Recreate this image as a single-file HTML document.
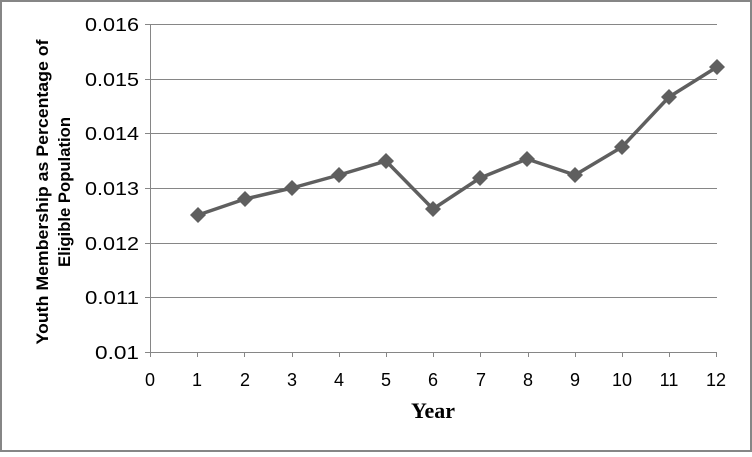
<!DOCTYPE html><html><head><style>body{margin:0;background:#fff}</style></head><body>
<svg width="752" height="452" xmlns="http://www.w3.org/2000/svg" font-family="Liberation Sans, sans-serif">
<rect x="1" y="1" width="750" height="450" fill="#fff" stroke="#868686" stroke-width="2"/>
<g stroke="#868686" stroke-width="1">
<line x1="145" y1="24.5" x2="717" y2="24.5"/><line x1="145" y1="79.5" x2="717" y2="79.5"/><line x1="145" y1="133.5" x2="717" y2="133.5"/><line x1="145" y1="188.5" x2="717" y2="188.5"/><line x1="145" y1="243.5" x2="717" y2="243.5"/><line x1="145" y1="297.5" x2="717" y2="297.5"/><line x1="145" y1="352.5" x2="717" y2="352.5"/>
<line x1="150.5" y1="24" x2="150.5" y2="357"/>
<line x1="197.5" y1="352" x2="197.5" y2="357"/><line x1="244.5" y1="352" x2="244.5" y2="357"/><line x1="292.5" y1="352" x2="292.5" y2="357"/><line x1="339.5" y1="352" x2="339.5" y2="357"/><line x1="386.5" y1="352" x2="386.5" y2="357"/><line x1="433.5" y1="352" x2="433.5" y2="357"/><line x1="480.5" y1="352" x2="480.5" y2="357"/><line x1="528.5" y1="352" x2="528.5" y2="357"/><line x1="575.5" y1="352" x2="575.5" y2="357"/><line x1="622.5" y1="352" x2="622.5" y2="357"/><line x1="669.5" y1="352" x2="669.5" y2="357"/><line x1="716.5" y1="352" x2="716.5" y2="357"/>
</g>
<g font-size="18" fill="#000" text-anchor="end">
<text x="139" y="31" textLength="54" lengthAdjust="spacingAndGlyphs">0.016</text><text x="139" y="86" textLength="54" lengthAdjust="spacingAndGlyphs">0.015</text><text x="139" y="140" textLength="54" lengthAdjust="spacingAndGlyphs">0.014</text><text x="139" y="195" textLength="54" lengthAdjust="spacingAndGlyphs">0.013</text><text x="139" y="250" textLength="54" lengthAdjust="spacingAndGlyphs">0.012</text><text x="139" y="304" textLength="54" lengthAdjust="spacingAndGlyphs">0.011</text><text x="139" y="359" textLength="44" lengthAdjust="spacingAndGlyphs">0.01</text>
</g>
<g font-size="18" fill="#000" text-anchor="middle">
<text x="150" y="386">0</text><text x="197" y="386">1</text><text x="245" y="386">2</text><text x="292" y="386">3</text><text x="339" y="386">4</text><text x="386" y="386">5</text><text x="433" y="386">6</text><text x="481" y="386">7</text><text x="528" y="386">8</text><text x="575" y="386">9</text><text x="622" y="386">10</text><text x="669" y="386">11</text><text x="716" y="386">12</text>
</g>
<text x="433" y="418" font-family="Liberation Serif, serif" font-weight="bold" font-size="22" text-anchor="middle">Year</text>
<g transform="translate(48,192) rotate(-90)" font-size="17" font-weight="bold" text-anchor="middle">
<text x="0" y="0" textLength="305" lengthAdjust="spacingAndGlyphs">Youth Membership  as Percentage of</text><text x="0" y="22" textLength="150" lengthAdjust="spacingAndGlyphs">Eligible Population</text>
</g>
<polyline fill="none" stroke="#5f5f5f" stroke-width="3.5" stroke-linejoin="round" points="198,215 245,199 292,188 339,175 386,161 433,209 480,178 527,159 575,175 622,147 669,97 717,67"/>
<g fill="#5f5f5f">
<path d="M198,207l8,8l-8,8l-8,-8z"/><path d="M245,191l8,8l-8,8l-8,-8z"/><path d="M292,180l8,8l-8,8l-8,-8z"/><path d="M339,167l8,8l-8,8l-8,-8z"/><path d="M386,153l8,8l-8,8l-8,-8z"/><path d="M433,201l8,8l-8,8l-8,-8z"/><path d="M480,170l8,8l-8,8l-8,-8z"/><path d="M527,151l8,8l-8,8l-8,-8z"/><path d="M575,167l8,8l-8,8l-8,-8z"/><path d="M622,139l8,8l-8,8l-8,-8z"/><path d="M669,89l8,8l-8,8l-8,-8z"/><path d="M717,59l8,8l-8,8l-8,-8z"/>
</g>
</svg>
</body></html>
